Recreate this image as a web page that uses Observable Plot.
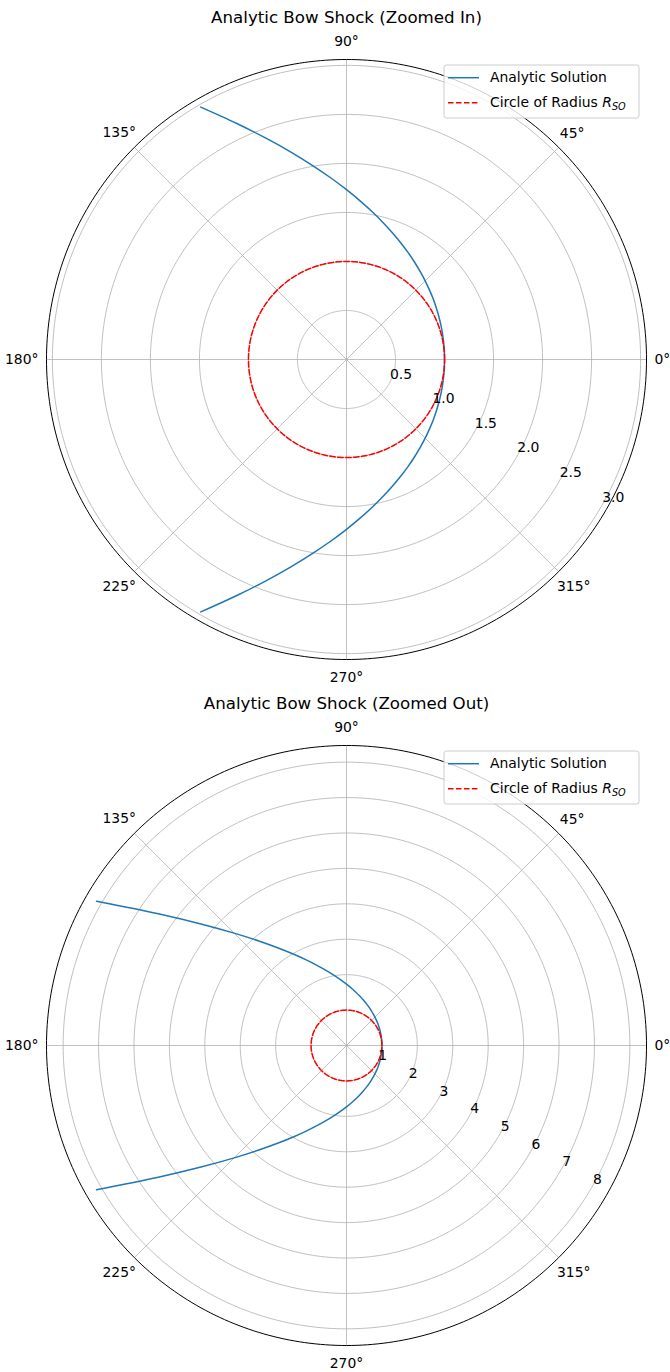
<!DOCTYPE html>
<html>
<head>
<meta charset="utf-8">
<script src="https://cdn.jsdelivr.net/npm/d3@7"></script>
<script src="https://cdn.jsdelivr.net/npm/@observablehq/plot@0.6"></script>
<style>
  html, body { margin: 0; padding: 0; background: #fff; }
  #charts svg { display: block; }
</style>
</head>
<body>
<div id="charts"></div>
<script>
// Standoff radius of the bow shock (circle drawn for reference)
const RSO = 1;

// Analytic bow-shock shape: polar angle (degrees) and radius (in units of R_SO)
const shockTheta = [
  -150, -145, -140, -135, -130, -125, -120, -115, -110, -105,
  -100, -95, -90, -85, -80, -75, -70, -65, -60, -55,
  -50, -45, -40, -35, -30, -25, -20, -15, -10, -5,
  0,
  5, 10, 15, 20, 25, 30, 35, 40, 45, 50,
  55, 60, 65, 70, 75, 80, 85, 90, 95, 100,
  105, 110, 115, 120, 125, 130, 135, 140, 145, 150
];
const shockR = [
  8.149, 6.487, 5.330, 4.487, 3.853, 3.362, 2.973, 2.659, 2.402, 2.190,
  2.011, 1.861, 1.732, 1.622, 1.527, 1.445, 1.374, 1.312, 1.258, 1.211,
  1.170, 1.135, 1.104, 1.079, 1.057, 1.039, 1.025, 1.014, 1.006, 1.002,
  1.000,
  1.002, 1.006, 1.014, 1.025, 1.039, 1.057, 1.079, 1.104, 1.135, 1.170,
  1.211, 1.258, 1.312, 1.374, 1.445, 1.527, 1.622, 1.732, 1.861, 2.011,
  2.190, 2.402, 2.659, 2.973, 3.362, 3.853, 4.487, 5.330, 6.487, 8.149
];

// Angular grid / tick labels (degrees)
const angleTicks = [0, 45, 90, 135, 180, 225, 270, 315];

// Zoomed-in panel
const zoomInTitle = "Analytic Bow Shock (Zoomed In)";
const zoomInRTicks = [0.5, 1.0, 1.5, 2.0, 2.5, 3.0];
const zoomInRMax = 3.06;
const zoomInThetaMax = 120;

// Zoomed-out panel
const zoomOutTitle = "Analytic Bow Shock (Zoomed Out)";
const zoomOutRTicks = [1, 2, 3, 4, 5, 6, 7, 8];
const zoomOutRMax = 8.47;
const zoomOutThetaMax = 150;

// Legend entries
const legendLabels = ["Analytic Solution", "Circle of Radius"];

const BLUE = "#1f77b4";
const RED = "#ff0000";
const GRID = "#b0b0b0";
const FONT = "'DejaVu Sans', 'Liberation Sans', sans-serif";
const TICK_SIZE = 13.9;
const TITLE_SIZE = 16.67;

const deg = Math.PI / 180;
const px = (r, a) => r * Math.cos(a * deg);
const py = (r, a) => r * Math.sin(a * deg);
const sweep = d3.range(0, 361, 1);

function polarPanel({title, rTicks, rFormat, rMax, thetaMax, rLabelDy}) {
  const W = 670, H = 686;
  const ml = 46, mr = 24, mt = 59, mb = 27;
  const R = (W - ml - mr) / 2;          // plot radius in px
  const unit = rMax / R;                 // data units per px

  const shock = shockTheta
    .map((t, i) => ({t, r: shockR[i]}))
    .filter(d => Math.abs(d.t) <= thetaMax);
  const rings = rTicks.flatMap(r => sweep.map(a => ({r, a})));

  // angle label centre distance from the origin (px), pushed out by half the label box
  const labelDist = a => {
    const s = `${a}°`;
    const halfW = ((s.length - 1) * 0.636 + 0.5) * TICK_SIZE / 2;
    const c = Math.cos(a * deg), sn = Math.sin(a * deg);
    return 308 + halfW * c * c + 10 * sn * sn;
  };

  const svg = Plot.plot({
    width: W,
    height: H,
    marginLeft: ml,
    marginRight: mr,
    marginTop: mt,
    marginBottom: mb,
    x: {domain: [-rMax, rMax], axis: null},
    y: {domain: [-rMax, rMax], axis: null},
    style: {fontFamily: FONT, fontSize: `${TICK_SIZE}px`, color: "black", background: "white", overflow: "visible"},
    marks: [
      // radial grid rings
      Plot.line(rings, {
        x: d => px(d.r, d.a), y: d => py(d.r, d.a), z: d => d.r,
        stroke: GRID, strokeWidth: 0.8
      }),
      // angular grid spokes
      Plot.link(angleTicks, {
        x1: () => 0, y1: () => 0,
        x2: a => px(rMax, a), y2: a => py(rMax, a),
        stroke: GRID, strokeWidth: 0.8
      }),
      // analytic solution
      Plot.line(shock, {
        x: d => px(d.r, d.t), y: d => py(d.r, d.t),
        stroke: BLUE, strokeWidth: 1.5, curve: "catmull-rom"
      }),
      // circle of radius R_SO
      Plot.line(sweep, {
        x: a => px(RSO, a), y: a => py(RSO, a),
        stroke: RED, strokeWidth: 1.5, strokeDasharray: "5.55,2.4"
      }),
      // outer spine
      Plot.line(sweep, {
        x: a => px(rMax, a), y: a => py(rMax, a),
        stroke: "black", strokeWidth: 1
      }),
      // angle tick labels
      Plot.text(angleTicks, {
        x: a => px(labelDist(a) * unit, a),
        y: a => py(labelDist(a) * unit, a),
        text: a => `${a}°`,
        textAnchor: "middle", lineAnchor: "middle",
        fontSize: TICK_SIZE, fill: "black"
      }),
      // radial tick labels
      Plot.text(rTicks, {
        x: r => px(r, -30), y: r => py(r, -30),
        text: rFormat,
        textAnchor: "start", lineAnchor: "middle",
        dx: 1, dy: rLabelDy,
        fontSize: TICK_SIZE, fill: "black"
      }),
      // panel title
      Plot.text([title], {
        frameAnchor: "top", dy: -42,
        text: d => d,
        lineAnchor: "middle", textAnchor: "middle",
        fontSize: TITLE_SIZE, fill: "black"
      })
    ]
  });

  // legend box in the upper right
  const g = d3.select(svg).append("g")
    .attr("font-family", FONT)
    .attr("font-size", TICK_SIZE)
    .attr("text-anchor", "start");
  g.append("rect")
    .attr("x", 444).attr("y", 65).attr("width", 195).attr("height", 53)
    .attr("rx", 2.5)
    .attr("fill", "white").attr("fill-opacity", 0.8)
    .attr("stroke", "#cccccc").attr("stroke-width", 1);
  const rows = [77.7, 102.7];
  g.append("line")
    .attr("x1", 448).attr("x2", 479).attr("y1", rows[0]).attr("y2", rows[0])
    .attr("stroke", BLUE).attr("stroke-width", 1.5);
  g.append("line")
    .attr("x1", 448).attr("x2", 479).attr("y1", rows[1]).attr("y2", rows[1])
    .attr("stroke", RED).attr("stroke-width", 1.5).attr("stroke-dasharray", "5.55,2.4");
  g.append("text")
    .attr("x", 490).attr("y", rows[0] + 4.6)
    .attr("text-anchor", "start")
    .attr("fill", "black")
    .text(legendLabels[0]);
  const t2 = g.append("text")
    .attr("x", 490).attr("y", rows[1] + 4.6)
    .attr("text-anchor", "start")
    .attr("fill", "black");
  t2.append("tspan").text(legendLabels[1] + " ");
  t2.append("tspan").attr("font-style", "italic").text("R");
  t2.append("tspan").attr("font-style", "italic").attr("font-size", 9.7).attr("dy", 3).text("SO");

  return svg;
}

const root = document.getElementById("charts");
root.append(polarPanel({
  title: zoomInTitle,
  rTicks: zoomInRTicks,
  rFormat: d3.format(".1f"),
  rMax: zoomInRMax,
  thetaMax: zoomInThetaMax,
  rLabelDy: -9.5
}));
root.append(polarPanel({
  title: zoomOutTitle,
  rTicks: zoomOutRTicks,
  rFormat: d3.format("d"),
  rMax: zoomOutRMax,
  thetaMax: zoomOutThetaMax,
  rLabelDy: -7.5
}));
</script>
</body>
</html>
